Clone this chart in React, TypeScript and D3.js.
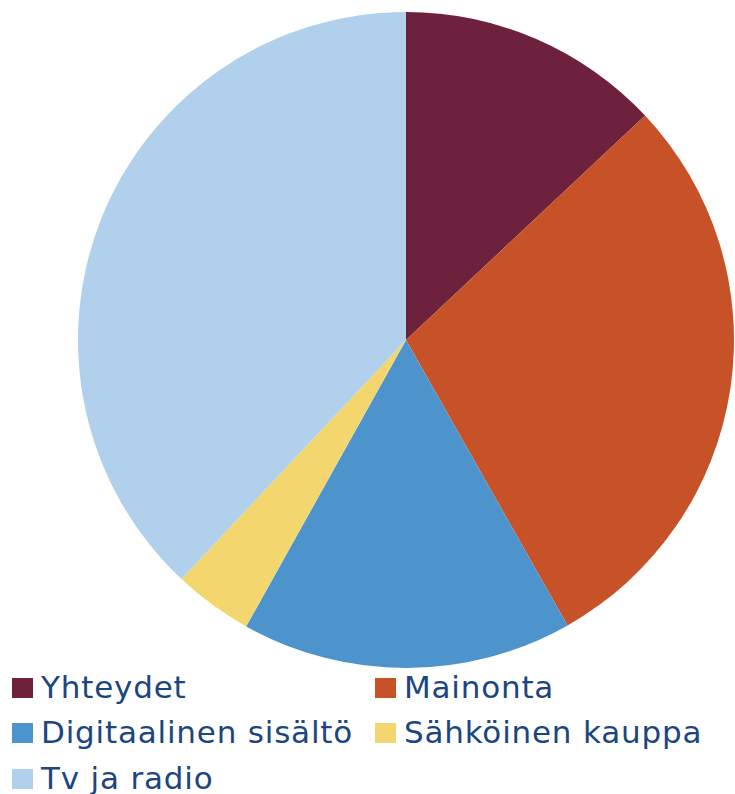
import React from 'react';
import * as d3 from 'd3';

const WIDTH = 735;
const HEIGHT = 794;
const CENTER = { x: 406, y: 340 };
const RADIUS = 328;

const categories = ['Yhteydet', 'Mainonta', 'Digitaalinen sisältö', 'Sähköinen kauppa', 'Tv ja radio'];
const values = [13.0, 28.8, 16.3, 3.9, 38.0];
const colors = ['#6d213c', '#c85227', '#4d93cc', '#f3d76e', '#b1d0ec'];

// legend layout: two columns, three rows
const LEGEND_COLS = [12, 375];
const LEGEND_ROWS = [678, 723, 769];
const TEXT_COLOR = '#1b467f';

const App = () => {
    const pie = d3.pie<number>().sort(null).value(d => d);
    const arc = d3.arc<d3.PieArcDatum<number>>().innerRadius(0).outerRadius(RADIUS);
    const slices = pie(values);

    return (
        <svg width={WIDTH} height={HEIGHT} style={{ position: 'absolute', left: 0, top: 0 }}>
            <g transform={`translate(${CENTER.x}, ${CENTER.y})`}>
                {slices.map((s, i) => (
                    <path key={categories[i]} d={arc(s) || ''} fill={colors[i]} />
                ))}
            </g>
            <rect x={0} y={672} width={WIDTH} height={HEIGHT - 672} fill="#fff" />
            {categories.map((c, i) => {
                const x = LEGEND_COLS[i % 2];
                const y = LEGEND_ROWS[Math.floor(i / 2)];
                return (
                    <g key={c} transform={`translate(${x}, ${y})`}>
                        <rect width={21} height={20} fill={colors[i]} />
                        <text x={29} y={20} fontFamily="DejaVu Sans" fontSize={31}
                            letterSpacing={0.8} fill={TEXT_COLOR}>{c}</text>
                    </g>
                );
            })}
        </svg>
    );
};

export default App;
